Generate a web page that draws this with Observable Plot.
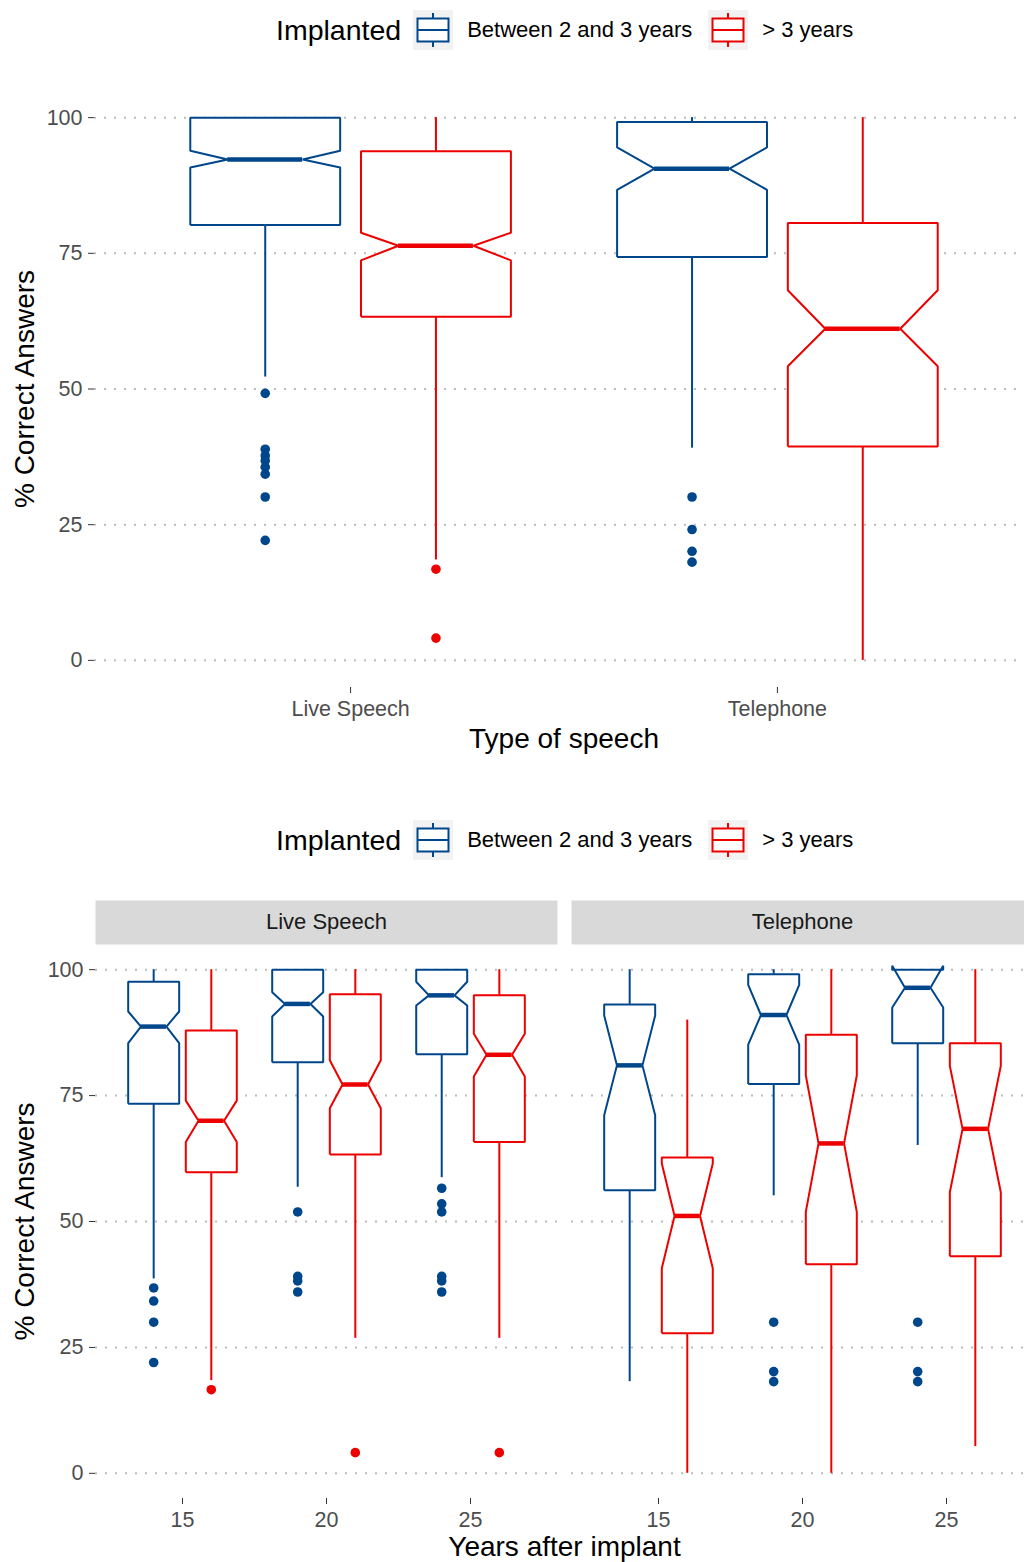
<!DOCTYPE html>
<html><head><meta charset="utf-8">
<script src="https://cdn.jsdelivr.net/npm/d3@7"></script>
<script src="https://cdn.jsdelivr.net/npm/@observablehq/plot@0.6"></script>
<style>
html,body{margin:0;padding:0;background:#fff;overflow:hidden;width:1024px;height:1562px;}
#root{position:relative;width:1024px;height:1562px;overflow:hidden;font-family:"Liberation Sans",Arial,sans-serif;}
.legend{position:absolute;left:276px;display:flex;align-items:center;height:40px;}
.legend .title{font-size:28.5px;color:#000;margin-right:12px;}
.legend .lab{font-size:22px;color:#000;margin-left:14px;margin-right:16px;}
.legend svg{display:block;}
.chart{position:absolute;left:0;width:1040px;}
.chart svg{max-width:none !important;}
</style></head><body><div id="root">
<div class="legend" id="legend1" style="top:10px"></div>
<div class="chart" id="chart1" style="top:60px"></div>
<div class="legend" id="legend2" style="top:820px"></div>
<div class="chart" id="chart2" style="top:870px"></div>
</div>
<script>
// ---------- data ----------
const groups = ["Between 2 and 3 years", "> 3 years"];
const groupColors = ["#00468B", "#ED0000"];
const speechTypes = ["Live Speech", "Telephone"];
const yTicks = [0, 25, 50, 75, 100];
const yearTicks = [15, 20, 25];

// Top chart: one box per (type, group)
const topType  = ["Live Speech", "Live Speech", "Telephone", "Telephone"];
const topGroup = [groups[0], groups[1], groups[0], groups[1]];
const topWhiskerHigh = [100, 100, 100, 100];
const topQ3          = [100, 93.8, 99.2, 80.6];
const topNotchHigh   = [93.9, 78.8, 94.5, 68.2];
const topMedian      = [92.3, 76.4, 90.6, 61.1];
const topNotchLow    = [90.8, 73.7, 86.7, 54.2];
const topQ1          = [80.2, 63.3, 74.3, 39.4];
const topWhiskerLow  = [52.2, 18.5, 39.1, 0];
const topOutliers = [
  [49.2, 38.9, 37.7, 36.8, 35.6, 34.3, 30.1, 22.1],
  [16.8, 4.1],
  [30.1, 24.1, 20.1, 18.1],
  []
];

// Bottom chart: one box per (type, year, group)
const botType  = ["Live Speech","Live Speech","Live Speech","Live Speech","Live Speech","Live Speech",
                  "Telephone","Telephone","Telephone","Telephone","Telephone","Telephone"];
const botYear  = [15, 15, 20, 20, 25, 25, 15, 15, 20, 20, 25, 25];
const botGroup = [groups[0], groups[1], groups[0], groups[1], groups[0], groups[1],
                  groups[0], groups[1], groups[0], groups[1], groups[0], groups[1]];
const botWhiskerHigh = [100, 100, 100, 100, 100, 100, 100, 90.0, 100, 100, 100, 100];
const botQ3          = [97.6, 87.9, 100, 95.1, 100, 94.9, 93.1, 62.7, 99.1, 87.1, 100, 85.4];
const botNotchHigh   = [91.7, 74.0, 95.5, 82.0, 97.6, 87.3, 90.9, 61.5, 97.0, 79.0, 100.8, 80.9];
const botMedian      = [88.7, 70.0, 93.2, 77.2, 94.9, 83.1, 81.0, 51.1, 91.0, 65.5, 96.4, 68.4];
const botNotchLow    = [85.4, 65.8, 90.7, 72.5, 92.9, 78.8, 71.1, 40.7, 85.1, 51.9, 92.5, 55.8];
const botQ1          = [73.4, 59.8, 81.6, 63.3, 83.2, 65.8, 56.2, 27.8, 77.3, 41.5, 85.4, 43.1];
const botWhiskerLow  = [38.6, 18.4, 56.8, 26.8, 58.7, 26.8, 18.2, 0, 55.1, 0, 65.1, 5.3];
const botOutliers = [
  [36.8, 34.2, 30.0, 22.0], [16.6],
  [51.9, 39.1, 38.2, 36.0], [4.1],
  [56.6, 53.5, 51.9, 39.1, 38.2, 36.0], [4.1],
  [], [],
  [30.0, 20.2, 18.2], [],
  [30.0, 20.2, 18.2], []
];

// ---------- layout constants (styles, not data) ----------
const FONT = '"Liberation Sans", Arial, sans-serif';
const TOP_DODGE = 0.2, TOP_HW = 0.1756;   // in category units
const BOT_DODGE = 1.0, BOT_HW = 0.885;    // in years
const NOTCH = 0.5;
const TITLE_SIZE = 28;

function buildBoxes(n, base, dodge, hw, arr) {
  return d3.range(n).map(i => ({
    id: i, type: arr.type[i], group: arr.group[i],
    x: base(i) + (groups.indexOf(arr.group[i]) === 0 ? -dodge : dodge),
    hw,
    whi: arr.whi[i], q3: arr.q3[i], nhi: arr.nhi[i], med: arr.med[i],
    nlo: arr.nlo[i], q1: arr.q1[i], wlo: arr.wlo[i], out: arr.out[i]
  }));
}
function outlinePts(boxes) {
  return boxes.flatMap(b => {
    const l = b.x - b.hw, r = b.x + b.hw, nl = b.x - b.hw * NOTCH, nr = b.x + b.hw * NOTCH;
    return [[l,b.q1],[l,b.nlo],[nl,b.med],[l,b.nhi],[l,b.q3],[r,b.q3],[r,b.nhi],[nr,b.med],[r,b.nlo],[r,b.q1],[l,b.q1]]
      .map(([x, y]) => ({x, y, id: b.id, group: b.group, type: b.type}));
  });
}
function outlierPts(boxes) {
  return boxes.flatMap(b => b.out.map(v => ({x: b.x, y: v, group: b.group, type: b.type})));
}
function boxMarks(boxes, fx) {
  const f = fx ? {fx: "type"} : {};
  return [
    Plot.ruleX(boxes, {...f, x: "x", y1: "q3", y2: "whi", stroke: "group", strokeWidth: 2}),
    Plot.ruleX(boxes, {...f, x: "x", y1: "q1", y2: "wlo", stroke: "group", strokeWidth: 2}),
    Plot.line(outlinePts(boxes), {...f, x: "x", y: "y", z: "id", stroke: "group", fill: "white", strokeWidth: 2, strokeLinejoin: "miter", strokeLinecap: "butt"}),
    Plot.ruleY(boxes, {...f, y: "med", x1: d => d.x - d.hw * NOTCH, x2: d => d.x + d.hw * NOTCH, stroke: "group", strokeWidth: 4.5}),
    Plot.dot(outlierPts(boxes), {...f, x: "x", y: "y", fill: "group", r: 4.8})
  ];
}
const grid = () => Plot.ruleY(yTicks, {stroke: "#bcbcbc", strokeWidth: 2, strokeDasharray: "2,8"});
const plotStyle = {fontFamily: FONT, fontSize: "21.5px", background: "transparent", overflow: "visible", maxWidth: "none"};

// ---------- legends ----------
function legend(el) {
  const div = document.getElementById(el);
  let html = '<span class="title">Implanted</span>';
  groups.forEach((g, i) => {
    const c = groupColors[i];
    html += `<svg width="40" height="40"><rect width="40" height="40" fill="#f2f2f2"/>
      <line x1="20" x2="20" y1="3" y2="37" stroke="${c}" stroke-width="2"/>
      <rect x="4.5" y="8.5" width="31" height="23" fill="white" stroke="${c}" stroke-width="2"/>
      <line x1="4.5" x2="35.5" y1="20" y2="20" stroke="${c}" stroke-width="2"/></svg>
      <span class="lab">${g.replace(">", "&gt;")}</span>`;
  });
  div.innerHTML = html;
}
legend("legend1");
legend("legend2");

// ---------- top chart ----------
const topBoxes = buildBoxes(topType.length, i => speechTypes.indexOf(topType[i]) + 1, TOP_DODGE, TOP_HW, {
  type: topType, group: topGroup, whi: topWhiskerHigh, q3: topQ3, nhi: topNotchHigh, med: topMedian,
  nlo: topNotchLow, q1: topQ1, wlo: topWhiskerLow, out: topOutliers
});
const chart1 = Plot.plot({
  width: 1040, height: 710,
  marginLeft: 94, marginRight: 7, marginTop: 30, marginBottom: 83,
  x: {domain: [0.4, 2.6]},
  y: {domain: [-5, 105]},
  color: {domain: groups, range: groupColors},
  style: plotStyle,
  marks: [
    grid(),
    Plot.axisY({ticks: yTicks, tickSize: 6, tickPadding: 6, label: null, stroke: "#333", fill: "#4d4d4d", fontSize: 21.5}),
    Plot.axisX({ticks: [1, 2], tickFormat: i => speechTypes[i - 1], tickSize: 6, tickPadding: 7, label: null, stroke: "#333", fill: "#4d4d4d", fontSize: 21.5}),
    ...boxMarks(topBoxes, false),
    Plot.text(["Type of speech"], {frameAnchor: "bottom", lineAnchor: "middle", dy: 52, fontSize: TITLE_SIZE, fill: "#000", text: d => d}),
    Plot.text(["% Correct Answers"], {frameAnchor: "left", textAnchor: "middle", lineAnchor: "middle", dx: -69, rotate: -90, fontSize: TITLE_SIZE, fill: "#000", text: d => d})
  ]
});
document.getElementById("chart1").appendChild(chart1);

// ---------- bottom chart ----------
const botBoxes = buildBoxes(botType.length, i => botYear[i], BOT_DODGE, BOT_HW, {
  type: botType, group: botGroup, whi: botWhiskerHigh, q3: botQ3, nhi: botNotchHigh, med: botMedian,
  nlo: botNotchLow, q1: botQ1, wlo: botWhiskerLow, out: botOutliers
});
const chart2 = Plot.plot({
  width: 1040, height: 692,
  marginLeft: 95, marginRight: 7, marginTop: 74, marginBottom: 64,
  fx: {domain: speechTypes, paddingInner: 0.03, paddingOuter: 0, axis: null},
  x: {domain: [11.98, 28.02]},
  y: {domain: [-5, 105]},
  color: {domain: groups, range: groupColors},
  style: plotStyle,
  marks: [
    Plot.frame({fill: "#d9d9d9", stroke: null, insetTop: -44, insetBottom: 554}),
    Plot.text(speechTypes, {fx: d => d, text: d => d, frameAnchor: "top", lineAnchor: "middle", dy: -22.5, fontSize: 22, fill: "#1a1a1a"}),
    grid(),
    Plot.axisY({ticks: yTicks, tickSize: 6, tickPadding: 6, label: null, stroke: "#333", fill: "#4d4d4d", fontSize: 21.5}),
    Plot.axisX({ticks: yearTicks, tickSize: 6, tickPadding: 7, label: null, stroke: "#333", fill: "#4d4d4d", fontSize: 21.5}),
    ...boxMarks(botBoxes, true),
    Plot.text([{type: speechTypes[0], t: "Years after implant"}], {fx: "type", text: "t", frameAnchor: "bottom-right", textAnchor: "middle", lineAnchor: "middle", dx: 7, dy: 49, fontSize: TITLE_SIZE, fill: "#000"}),
    Plot.text([{type: speechTypes[0], t: "% Correct Answers"}], {fx: "type", text: "t", frameAnchor: "left", textAnchor: "middle", lineAnchor: "middle", dx: -70, rotate: -90, fontSize: TITLE_SIZE, fill: "#000"})
  ]
});
document.getElementById("chart2").appendChild(chart2);
</script>
</body></html>
